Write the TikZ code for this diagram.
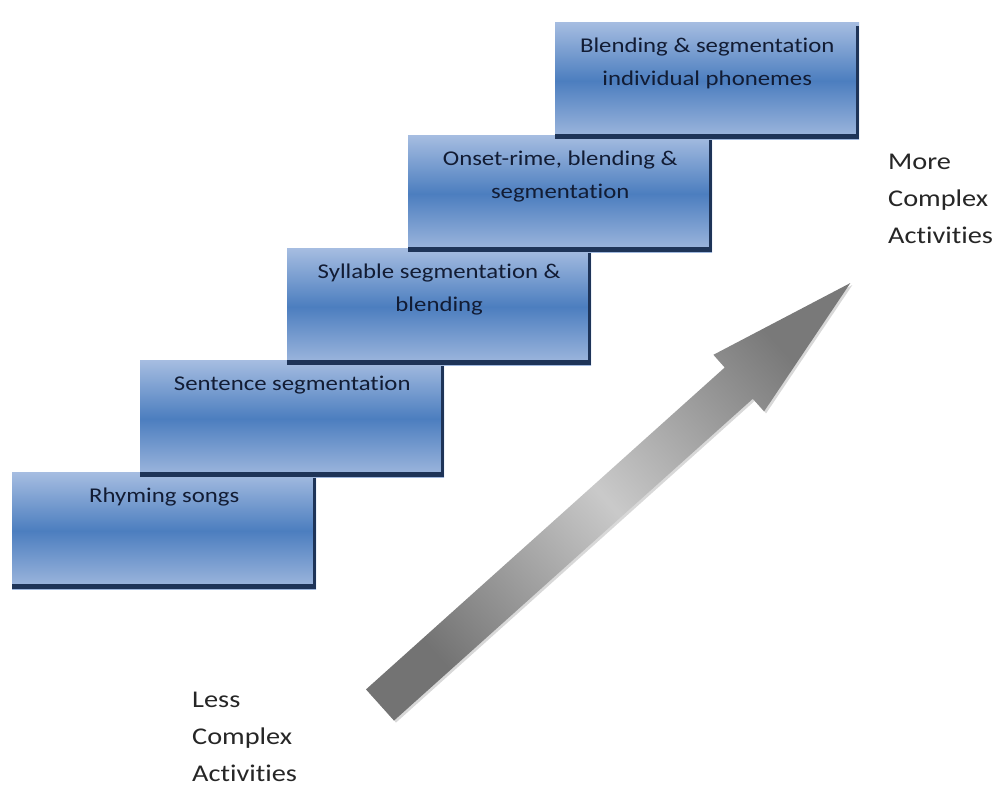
\documentclass[tikz,border=0pt]{standalone}
\usepackage{fontspec}
\setmainfont[FakeStretch=1.18, Ligatures=NoCommon]{Carlito}
\usetikzlibrary{positioning,shadows}

\definecolor{stepTop}{RGB}{166,189,225}
\definecolor{stepMid}{RGB}{76,126,191}
\definecolor{stepBot}{RGB}{160,184,222}
\definecolor{stepEdge}{RGB}{30,52,88}
\definecolor{stepInk}{RGB}{18,28,52}
\definecolor{sideInk}{RGB}{38,38,38}

\tikzset{
  stepbox/.style={anchor=north west, inner sep=0pt,
    minimum width=304pt, minimum height=117pt,
    top color=stepTop, bottom color=stepBot, middle color=stepMid},
  steptext/.style={inner sep=0pt, align=center, text=stepInk,
    font=\fontsize{21}{33}\selectfont},
  sidetext/.style={anchor=north west, inner sep=0pt, align=left,
    text=sideInk, font=\fontsize{24}{37}\selectfont},
}

% dark bottom and right rim of a step
\newcommand{\steprim}[1]{%
  \fill[stepEdge] ([yshift=5pt]#1.south west) rectangle (#1.south east);
  \fill[stepEdge] ([xshift=-3pt]#1.south east) rectangle ([yshift=-4pt]#1.north east);
}

\begin{document}
\begin{tikzpicture}[x=1pt,y=-1pt]
\useasboundingbox[fill=white] (0,0) rectangle (1002,789);

% the staircase, lowest step first
\node[stepbox] (s1) at (12,472) {};
\steprim{s1}
\node[steptext, below=16pt of s1.north] (t1) {Rhyming songs};

\node[stepbox] (s2) at (140,360) {};
\steprim{s2}
\node[steptext, below=16pt of s2.north] (t2) {Sentence segmentation};

\node[stepbox] (s3) at (287,248) {};
\steprim{s3}
\node[steptext, below=16pt of s3.north] (t3) {Syllable segmentation \&\\blending};

\node[stepbox] (s4) at (408,135) {};
\steprim{s4}
\node[steptext, below=16pt of s4.north] (t4) {Onset-rime, blending \&\\segmentation};

\node[stepbox] (s5) at (555,22) {};
\steprim{s5}
\node[steptext, below=16pt of s5.north] (t5) {Blending \& segmentation\\individual phonemes};

% big arrow, tail at (380,705), heading 41.9 degrees
\shade[bottom color=gray!90!black, top color=gray!95!black, middle color=gray!42,
  shading angle=-48.1,
  drop shadow={shadow xshift=2pt, shadow yshift=-2pt, opacity=0.3}]
  (366.0,689.4) -- (724.7,367.5) -- (713.4,354.8) -- (850.4,283.0)
  -- (764.1,411.4) -- (752.8,398.8) -- (394.0,720.6) -- cycle;

\node[sidetext] (more) at (888,154) {More\\Complex\\Activities};
\node[sidetext] (less) at (192,692) {Less\\Complex\\Activities};
\end{tikzpicture}
\end{document}
